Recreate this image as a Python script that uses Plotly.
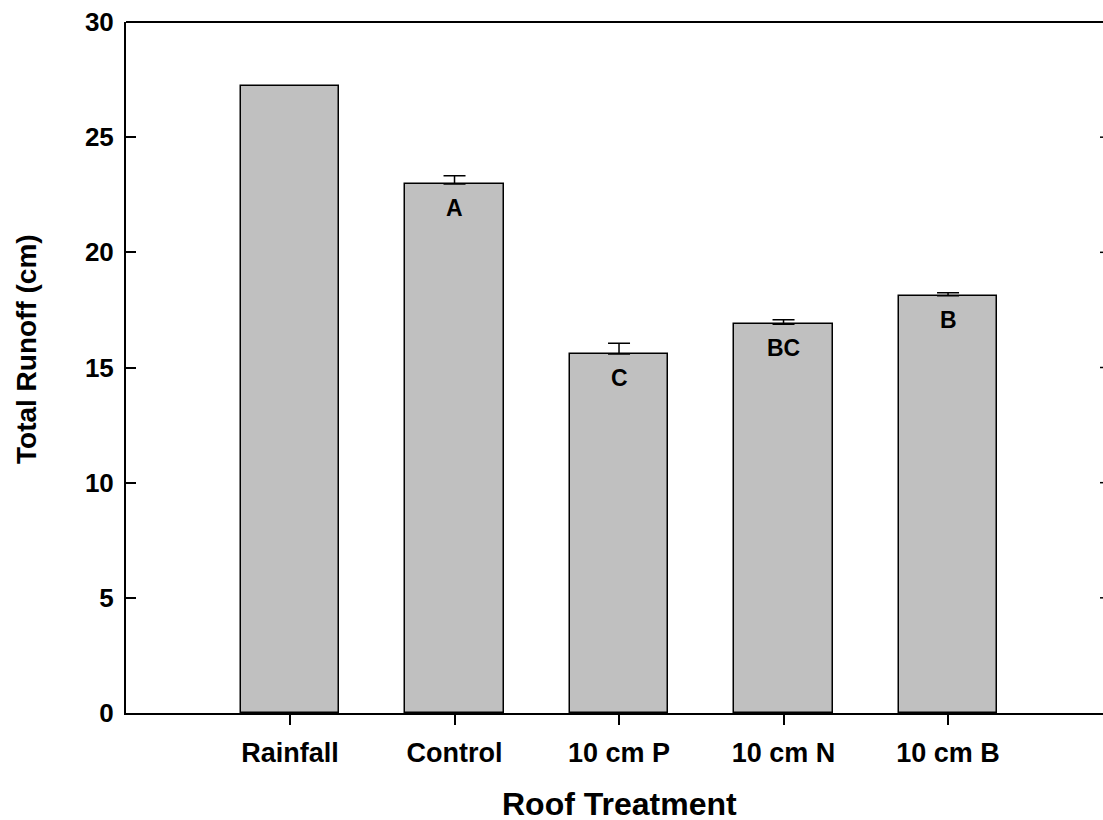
import plotly.graph_objects as go

categories = ["Rainfall", "Control", "10 cm P", "10 cm N", "10 cm B"]
runoff = [27.2, 22.97, 15.59, 16.88, 18.12]
err_up = [None, 0.36, 0.46, 0.19, 0.13]
letters = ["", "A", "C", "BC", "B"]
y_ticks = [0, 5, 10, 15, 20, 25, 30]

W, H = 1103, 820
L, R, T, B = 126, 0, 22, 107
plot_h = H - T - B
plot_w = W - L - R
FONT = "Arial, Liberation Sans, sans-serif"

xs = list(range(len(categories)))
no_err = [i for i, e in enumerate(err_up) if e is None]
with_err = [i for i, e in enumerate(err_up) if e is not None]

bar_style = dict(color="#c0c0c0", line=dict(color="black", width=1.5))
fig = go.Figure()
fig.add_trace(go.Bar(
    x=[xs[i] for i in no_err], y=[runoff[i] for i in no_err], width=0.6,
    marker=bar_style, showlegend=False,
))
fig.add_trace(go.Bar(
    x=[xs[i] for i in with_err], y=[runoff[i] for i in with_err], width=0.6,
    marker=bar_style,
    error_y=dict(type="data", symmetric=False,
                 array=[err_up[i] for i in with_err],
                 arrayminus=[0] * len(with_err), color="black",
                 thickness=1.5, width=11),
    showlegend=False,
))

for i, (v, lab) in enumerate(zip(runoff, letters)):
    if lab:
        fig.add_annotation(x=i, y=v, text="<b>%s</b>" % lab, showarrow=False,
                           yshift=-24, yanchor="middle",
                           font=dict(size=23, color="black", family=FONT))

# top frame line
fig.add_shape(type="line", xref="paper", yref="paper", x0=0, x1=1, y0=1, y1=1,
              line=dict(color="black", width=2))
# right-side inward tick stubs (axis itself is just outside the view)
for t in y_ticks[1:-1]:
    fig.add_shape(type="line", xref="paper", yref="y", x0=1 - 3 / plot_w, x1=1,
                  y0=t, y1=t, line=dict(color="black", width=1.5))

fig.add_annotation(xref="paper", yref="paper", x=(619 - L) / plot_w,
                   y=(H - B - 804) / plot_h, text="<b>Roof Treatment</b>",
                   showarrow=False, xanchor="center", yanchor="middle",
                   font=dict(size=32, color="black", family=FONT))
fig.add_annotation(xref="paper", yref="paper", x=(27 - L) / plot_w,
                   y=(H - B - 349) / plot_h, text="<b>Total Runoff (cm)</b>",
                   textangle=-90, showarrow=False, xanchor="center",
                   yanchor="middle",
                   font=dict(size=28, color="black", family=FONT))

fig.update_layout(
    width=W, height=H,
    margin=dict(l=L, r=R, t=T, b=B, pad=0),
    plot_bgcolor="white", paper_bgcolor="white",
    font=dict(family=FONT, color="black"),
    bargap=0, barmode="overlay",
)
fig.update_xaxes(
    range=[-0.997, 4.942], tickmode="array",
    tickvals=xs,
    ticktext=["<b>%s</b>" % c for c in categories],
    ticks="outside", ticklen=10, tickwidth=2, tickcolor="black",
    showline=True, linecolor="black", linewidth=2, showgrid=False,
    zeroline=False, tickfont=dict(size=27, family=FONT, color="black"),
    ticklabelstandoff=5,
)
fig.update_yaxes(
    range=[0, 30], tickmode="array", tickvals=y_ticks,
    ticktext=["<b>%d</b>" % t for t in y_ticks],
    ticks="inside", ticklen=10, tickwidth=2, tickcolor="black",
    showline=True, linecolor="black", linewidth=2, showgrid=False,
    zeroline=False, tickfont=dict(size=26, family=FONT, color="black"),
    ticklabelstandoff=5,
)

fig.write_html("out.html", config={"displayModeBar": False},
               post_script="document.body.style.margin='0';document.body.style.overflow='hidden';")
